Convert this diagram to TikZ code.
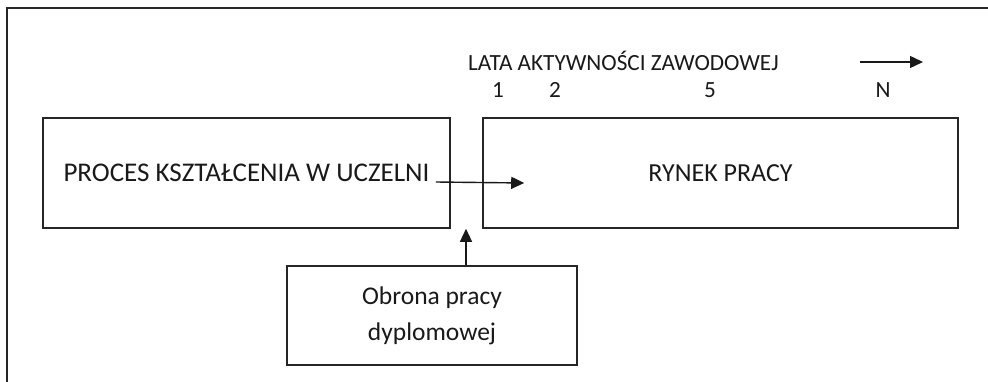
\documentclass[tikz,border=0pt]{standalone}
\usepackage{fontspec}
\setmainfont{Carlito}
\usetikzlibrary{arrows.meta}
\begin{document}
\begin{tikzpicture}[x=1pt,y=-1pt,
  box/.style={draw=black!85,line width=1.6pt,inner sep=0pt,align=center},
  lbl/.style={inner sep=0pt,font=\fontsize{23.2}{36}\selectfont,text=black!90},
  arr/.style={line width=1.4pt,draw=black!90,-{Triangle[length=13pt,width=12pt]}}]
\useasboundingbox (0,0) rectangle (988,382);
\draw[line width=2pt,black!85] (7,382) -- (7,8) -- (988,8);
% boxes
\node[box,lbl,font=\fontsize{27}{36}\selectfont,minimum width=407pt,minimum height=110pt] (kszt) at (246.5,173) {PROCES KSZTAŁCENIA W UCZELNI};
\node[box,lbl,font=\fontsize{26}{36}\selectfont,minimum width=475pt,minimum height=110pt] (rynek) at (720.5,173) {RYNEK PRACY};
\node[box,lbl,font=\fontsize{25.5}{36}\selectfont,minimum width=290pt,minimum height=99pt] (obrona) at (432,315.5) {Obrona pracy\\dyplomowej};
% top labels
\node[lbl,anchor=base west] (lata) at (468,71) {LATA AKTYWNOŚCI ZAWODOWEJ};
\node[lbl,anchor=base] (n1) at (498,98) {1};
\node[lbl,anchor=base] (n2) at (555,98) {2};
\node[lbl,anchor=base] (n5) at (710,98) {5};
\node[lbl,anchor=base] (nN) at (883,98) {N};
\coordinate (t1) at (860,62);
\coordinate (t2) at (923,62);
\draw[arr] (t1) -- (t2);
% arrows
\coordinate (a1) at ([xshift=-15pt,yshift=-9pt]kszt.east);
\coordinate (a2) at ([xshift=42pt,yshift=-10pt]rynek.west);
\draw[arr] (a1) -- (a2);
\coordinate (u1) at ([xshift=34pt]obrona.north);
\draw[arr] (u1) -- (u1 |- kszt.south);
\end{tikzpicture}
\end{document}
